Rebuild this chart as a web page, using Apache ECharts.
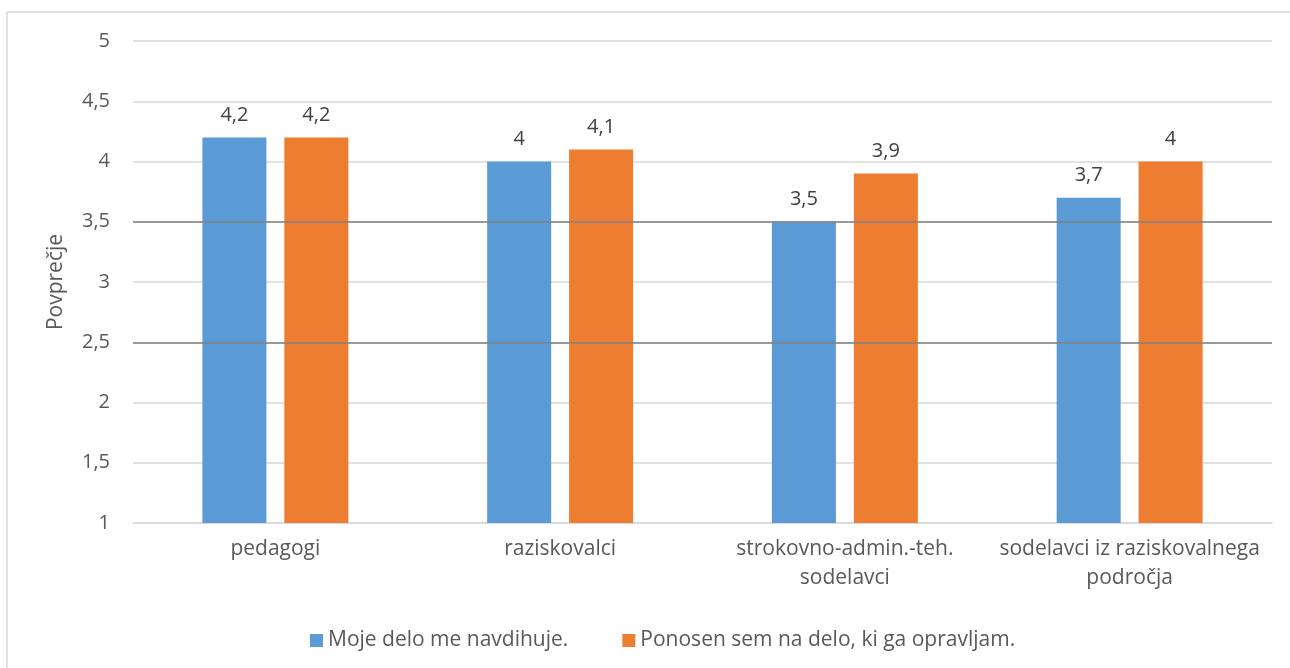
<!DOCTYPE html>
<html>
<head>
<meta charset="utf-8">
<script src="https://cdn.jsdelivr.net/npm/echarts@6/dist/echarts.min.js"></script>
<style>
html,body{margin:0;padding:0;background:#fff;}
#chart{width:1290px;height:668px;}
</style>
</head>
<body>
<div id="chart"></div>
<script>
var categories = ['pedagogi', 'raziskovalci', 'strokovno-admin.-teh.\nsodelavci', 'sodelavci iz raziskovalnega\npodročja'];
var seriesNames = ['Moje delo me navdihuje.', 'Ponosen sem na delo, ki ga opravljam.'];
var inspires = [4.2, 4.0, 3.5, 3.7];
var proud = [4.2, 4.1, 3.9, 4.0];
var refLines = [3.5, 2.5];

var FONT = '"Open Sans", "Noto Sans", sans-serif';
function fmt(v) { return String(v).replace('.', ','); }

var chart = echarts.init(document.getElementById('chart'), null, {renderer: 'canvas'});
var labelCfg = {
  show: true, position: 'top', distance: 12,
  color: '#404040', fontSize: 20, fontFamily: FONT,
  formatter: function (p) { return fmt(p.value); }
};
chart.setOption({
  animation: false,
  backgroundColor: '#fff',
  graphic: [{
    type: 'rect', silent: true, z: -10,
    shape: {x: 7, y: 12, width: 1300, height: 700},
    style: {fill: 'none', stroke: '#d9d9d9', lineWidth: 1.5}
  }],
  grid: {left: 133, right: 18, top: 41, bottom: 145, containLabel: false},
  legend: {
    top: 625, left: 305,
    itemWidth: 13, itemHeight: 13, itemGap: 54,
    icon: 'rect',
    textStyle: {color: '#595959', fontSize: 21, fontFamily: FONT},
    data: seriesNames
  },
  xAxis: {
    type: 'category', data: categories,
    axisLine: {lineStyle: {color: '#d9d9d9', width: 1.5}},
    axisTick: {show: false},
    axisLabel: {color: '#595959', fontSize: 21, fontFamily: FONT, margin: 12, lineHeight: 29, interval: 0}
  },
  yAxis: {
    type: 'value', min: 1, max: 5, interval: 0.5,
    name: 'Povprečje', nameLocation: 'middle', nameGap: 66, nameRotate: 90,
    nameTextStyle: {color: '#595959', fontSize: 21, fontFamily: FONT},
    axisLine: {show: false}, axisTick: {show: false},
    axisLabel: {color: '#595959', fontSize: 20, fontFamily: FONT, margin: 23, formatter: function (v) { return fmt(v); }},
    splitLine: {lineStyle: {color: '#d9d9d9', width: 1.5}}
  },
  series: [{
    name: seriesNames[0], type: 'bar', data: inspires,
    barWidth: 64, barGap: '28%',
    itemStyle: {color: '#5b9bd5'},
    label: labelCfg,
    markLine: {
      silent: true, symbol: 'none', z: 10,
      label: {show: false},
      lineStyle: {color: '#808080', width: 1.5, type: 'solid'},
      data: refLines.map(function (v) { return {yAxis: v}; })
    }
  }, {
    name: seriesNames[1], type: 'bar', data: proud,
    barWidth: 64, barGap: '28%',
    itemStyle: {color: '#ed7d31'},
    label: labelCfg
  }]
});
</script>
</body>
</html>
